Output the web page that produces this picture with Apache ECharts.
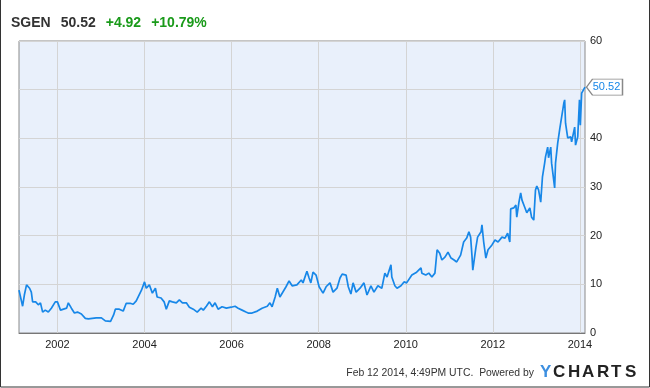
<!DOCTYPE html>
<html>
<head>
<meta charset="utf-8">
<script src="https://cdn.jsdelivr.net/npm/echarts@6/dist/echarts.min.js"></script>
<style>
html,body{margin:0;padding:0;background:#fff;}
#c{width:650px;height:388px;}
</style>
</head>
<body>
<div id="c"></div>
<script>
// Decimal-year dates and closing prices
const years = [2001.117,2001.20,2001.24,2001.29,2001.36,2001.40,2001.43,2001.50,2001.56,2001.61,2001.66,2001.72,2001.79,2001.86,2001.95,
2002.00,2002.07,2002.14,2002.21,2002.25,2002.32,2002.39,2002.46,2002.55,2002.64,2002.71,2002.80,2002.89,
2003.01,2003.10,2003.22,2003.29,2003.33,2003.42,2003.51,2003.58,2003.67,2003.74,2003.81,2003.93,
2004.00,2004.04,2004.11,2004.18,2004.25,2004.29,2004.38,2004.45,2004.50,2004.57,2004.64,2004.73,2004.80,2004.87,2004.96,
2005.03,2005.12,2005.21,2005.30,2005.35,2005.42,2005.49,2005.56,2005.62,2005.69,2005.78,2005.88,2005.99,
2006.08,2006.15,2006.24,2006.33,2006.38,2006.47,2006.59,2006.70,2006.82,2006.88,2006.93,
2007.00,2007.05,2007.11,2007.25,2007.32,2007.39,2007.50,2007.60,2007.64,2007.73,2007.78,2007.82,2007.87,2007.94,
2008.01,2008.10,2008.17,2008.26,2008.33,2008.42,2008.49,2008.54,2008.63,2008.68,2008.74,2008.79,2008.86,2008.95,
2009.04,2009.11,2009.20,2009.27,2009.36,2009.45,2009.52,2009.57,2009.66,2009.68,2009.75,2009.80,2009.89,2009.96,
2010.02,2010.14,2010.18,2010.25,2010.35,2010.37,2010.46,2010.53,2010.60,2010.67,2010.72,2010.78,2010.83,2010.90,2010.97,
2011.04,2011.11,2011.17,2011.26,2011.33,2011.40,2011.45,2011.49,2011.52,2011.54,2011.61,2011.65,2011.73,2011.75,2011.79,2011.84,2011.89,2011.98,
2012.05,2012.12,2012.21,2012.28,2012.34,2012.39,2012.41,2012.48,2012.53,2012.55,2012.60,2012.64,2012.67,2012.73,2012.78,2012.85,2012.89,2012.94,2012.98,
2013.01,2013.05,2013.10,2013.14,2013.19,2013.21,2013.26,2013.28,2013.33,2013.35,2013.42,2013.44,2013.49,2013.54,2013.58,2013.63,2013.65,2013.67,2013.72,2013.79,2013.81,2013.88,2013.90,2013.95,2013.99,
2014.01,2014.04,2014.117];
const prices = [8.8,5.5,7.8,9.9,9.2,8.4,6.4,6.4,5.8,6.2,4.3,4.7,4.3,5.1,6.4,
6.4,4.7,4.9,5.1,6.2,5.1,4.1,4.3,3.9,3.0,2.9,3.0,3.1,
3.1,2.5,2.4,3.7,4.9,4.9,4.5,6.1,6.1,5.9,6.6,8.8,
10.5,9.2,9.9,8.2,9.2,7.4,7.2,6.4,4.9,6.6,6.4,6.2,6.8,6.2,6.2,
5.3,4.9,4.3,5.1,4.7,5.5,6.4,5.4,6.2,4.9,5.4,5.1,5.3,
5.5,5.1,4.7,4.3,4.1,4.1,4.5,5.1,5.5,6.2,5.4,
7.4,9.2,7.4,9.5,10.7,9.7,9.9,10.9,10.3,12.7,11.3,10.3,12.5,11.9,
9.5,8.2,9.5,10.3,8.4,9.2,11.3,12.1,11.9,9.5,8.0,10.3,8.4,9.2,
10.3,7.8,9.7,8.4,9.7,9.2,12.3,11.5,14.0,11.5,9.7,9.2,9.7,10.5,
10.3,11.9,11.5,12.5,13.4,12.3,11.9,12.3,11.5,12.3,17.1,16.4,15.0,15.6,16.6,
15.4,15.0,14.6,16.0,18.7,19.5,20.8,19.7,16.0,12.9,17.5,19.7,20.8,22.2,18.7,15.4,17.1,18.1,
19.1,18.7,19.7,19.5,20.5,18.7,25.5,25.7,26.3,23.8,26.9,28.8,27.3,25.9,24.7,25.7,23.8,23.2,29.4,
30.2,29.4,26.9,32.1,34.9,36.2,38.2,36.0,38.2,34.9,29.8,34.9,39.0,42.1,41.7,47.2,47.9,43.1,40.1,40.3,39.3,42.3,38.6,40.3,47.9,
42.7,49.3,50.52];
const xTicks = [2002,2004,2006,2008,2010,2012,2014];
const yTicks = [0,10,20,30,40,50,60];
const headline = {ticker:'SGEN', last:'50.52', change:'+4.92', pct:'+10.79%'};
const footerText = 'Feb 12 2014, 4:49PM UTC.  Powered by';
const logoLetters = ['Y','C','H','A','R','T','S'];

const chart = echarts.init(document.getElementById('c'), null, {renderer:'canvas'});
const seriesData = years.map((y,i)=>[y,prices[i]]);
const last = seriesData[seriesData.length-1];
const FONT = 'Liberation Sans, Arial, sans-serif';
const logoX = [540,553,568,582,597,611,625];

const graphics = [
  {type:'rect', shape:{x:0.5,y:-5,width:649,height:392}, style:{fill:'none',stroke:'#333',lineWidth:1}, silent:true},
  {type:'text', x:534, y:373, style:{text:footerText, fill:'#333', font:'10.4px '+FONT, textAlign:'right', textVerticalAlign:'middle'}}
];
logoLetters.forEach((ch,i)=>{
  graphics.push({type:'text', x:logoX[i], y:372, style:{text:ch, fill: i===0?'#3d8fe0':'#222', font:'bold 17px '+FONT, textAlign:'left', textVerticalAlign:'middle'}});
});

chart.setOption({
  animation:false,
  title:{
    left:6, top:9,
    text:'{a|'+headline.ticker+'}  {a|'+headline.last+'}  {g|'+headline.change+'}  {g|'+headline.pct+'}',
    textStyle:{rich:{
      a:{color:'#333', fontWeight:'bold', fontSize:14, fontFamily:FONT},
      g:{color:'#1a9a1a', fontWeight:'bold', fontSize:14, fontFamily:FONT}
    }}
  },
  grid:{left:19, right:65, top:41, bottom:55, show:true, backgroundColor:'#e9f0fb', borderColor:'#8a8a8a', borderWidth:1},
  xAxis:{
    type:'value', min:years[0], max:years[years.length-1],
    axisLine:{show:true, lineStyle:{color:'#777'}},
    axisTick:{show:false, customValues:xTicks},
    axisLabel:{customValues:xTicks, color:'#222', fontSize:11, fontFamily:FONT, margin:6, formatter:v=>String(Math.round(v))},
    splitLine:{show:true, lineStyle:{color:'#d4d4d4', width:1}}
  },
  yAxis:{
    type:'value', position:'right', min:0, max:60, interval:10,
    axisLine:{show:false}, axisTick:{show:false},
    axisLabel:{color:'#222', fontSize:11, fontFamily:FONT, margin:5},
    splitLine:{show:true, lineStyle:{color:'#d4d4d4', width:1}}
  },
  series:[{
    type:'line', data:seriesData, showSymbol:false, clip:false,
    lineStyle:{color:'#1787e8', width:1.7},
    markPoint:{
      symbol:'path://M0,8 L6,0 L36,0 L36,16 L6,16 Z',
      symbolSize:[36,16], symbolKeepAspect:false,
      symbolOffset:[19.5,0],
      itemStyle:{color:'#fff', borderColor:'#888', borderWidth:1},
      label:{show:true, position:'inside', color:'#1787e8', fontSize:11, fontFamily:FONT, offset:[2,0], formatter:()=>headline.last},
      data:[{coord:last}]
    }
  }],
  graphic:graphics
});
</script>
</body>
</html>
